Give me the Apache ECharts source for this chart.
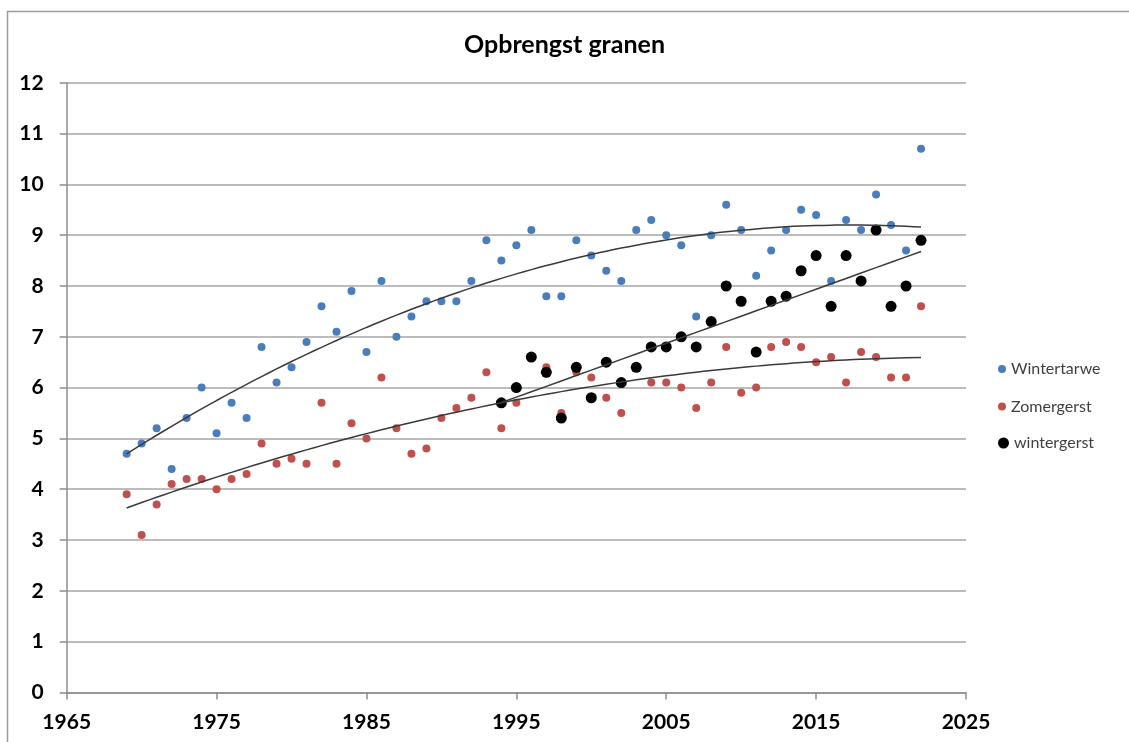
<!DOCTYPE html>
<html>
<head>
<meta charset="utf-8">
<script src="https://cdn.jsdelivr.net/npm/echarts@6/dist/echarts.min.js"></script>
<style>html,body{margin:0;padding:0;background:#fff}#c{width:1129px;height:742px}</style>
</head>
<body>
<div id="c"></div>
<script>
const title = 'Opbrengst granen';
const seriesNames = ['Wintertarwe', 'Zomergerst', 'wintergerst'];
const years = [1969,1970,1971,1972,1973,1974,1975,1976,1977,1978,1979,1980,1981,1982,1983,1984,1985,1986,1987,1988,1989,1990,1991,1992,1993,1994,1995,1996,1997,1998,1999,2000,2001,2002,2003,2004,2005,2006,2007,2008,2009,2010,2011,2012,2013,2014,2015,2016,2017,2018,2019,2020,2021,2022];
const wintertarwe = [4.7,4.9,5.2,4.4,5.4,6.0,5.1,5.7,5.4,6.8, 6.1,6.4,6.9,7.6,7.1,7.9,6.7,8.1,7.0,7.4, 7.7,7.7,7.7,8.1,8.9,8.5,8.8,9.1,7.8,7.8, 8.9,8.6,8.3,8.1,9.1,9.3,9.0,8.8,7.4,9.0, 9.6,9.1,8.2,8.7,9.1,9.5,9.4,8.1,9.3,9.1, 9.8,9.2,8.7,10.7];
const zomergerst = [3.9,3.1,3.7,4.1,4.2,4.2,4.0,4.2,4.3,4.9, 4.5,4.6,4.5,5.7,4.5,5.3,5.0,6.2,5.2,4.7, 4.8,5.4,5.6,5.8,6.3,5.2,5.7,6.6,6.4,5.5, 6.3,6.2,5.8,5.5,6.4,6.1,6.1,6.0,5.6,6.1, 6.8,5.9,6.0,6.8,6.9,6.8,6.5,6.6,6.1,6.7, 6.6,6.2,6.2,7.6];
const wgYears = [1994,1995,1996,1997,1998,1999,2000,2001,2002,2003,2004,2005,2006,2007,2008,2009,2010,2011,2012,2013,2014,2015,2016,2017,2018,2019,2020,2021,2022];
const wintergerst = [5.7,6.0,6.6,6.3,5.4,6.4,5.8,6.5,6.1,6.4, 6.8,6.8,7.0,6.8,7.3,8.0,7.7,6.7,7.7,7.8, 8.3,8.6,7.6,8.6,8.1,9.1,7.6,8.0,8.9];
const xTicks = {min: 1965, max: 2025, step: 10};
const yTicks = {min: 0, max: 12, step: 1};

// least-squares polynomial trendline (as the spreadsheet's trendline)
function polyFit(xs, ys, deg) {
  const x0 = xs.reduce((a,b)=>a+b,0)/xs.length;
  const n = deg + 1;
  const A = Array.from({length:n}, () => new Array(n+1).fill(0));
  xs.forEach((xv, k) => {
    const t = xv - x0;
    for (let i = 0; i < n; i++) {
      for (let j = 0; j < n; j++) A[i][j] += Math.pow(t, i + j);
      A[i][n] += ys[k] * Math.pow(t, i);
    }
  });
  for (let i = 0; i < n; i++) {
    let p = i;
    for (let r = i+1; r < n; r++) if (Math.abs(A[r][i]) > Math.abs(A[p][i])) p = r;
    [A[i], A[p]] = [A[p], A[i]];
    for (let r = 0; r < n; r++) {
      if (r === i) continue;
      const f = A[r][i] / A[i][i];
      for (let c = i; c <= n; c++) A[r][c] -= f * A[i][c];
    }
  }
  const coef = A.map((row, i) => row[n] / row[i]);
  return xv => coef.reduce((s, c, i) => s + c * Math.pow(xv - x0, i), 0);
}
function trend(xs, ys, deg) {
  const f = polyFit(xs, ys, deg);
  return xs.map(xv => [xv, f(xv)]);
}

const pair = (xs, ys) => xs.map((x, i) => [x, ys[i]]);
const FONT = 'Lato';
const chart = echarts.init(document.getElementById('c'), null, {renderer: 'canvas'});
const trendStyle = {color: '#3a3a3a', width: 1.5};
const legendBase = {
  orient: 'vertical', left: 993, itemGap: 0, icon: 'circle',
  textStyle: {fontFamily: FONT, fontSize: 16, color: '#404040', lineHeight: 18},
  selectedMode: false
};
chart.setOption({
  animation: false,
  backgroundColor: '#fff',
  graphic: [{type: 'rect', shape: {x: 7.5, y: 11.5, width: 1300, height: 900}, style: {fill: 'none', stroke: '#9a9a9a', lineWidth: 1.5}, silent: true}],
  title: {text: title, left: 'center', top: 27, textStyle: {fontFamily: FONT, fontSize: 25, fontWeight: 'bold', color: '#000'}},
  legend: [
    Object.assign({}, legendBase, {top: 355, data: [seriesNames[0]], itemWidth: 8, itemHeight: 8}),
    Object.assign({}, legendBase, {top: 392.5, data: [seriesNames[1]], itemWidth: 8, itemHeight: 8}),
    Object.assign({}, legendBase, {top: 429, data: [seriesNames[2]], itemWidth: 11, itemHeight: 11})
  ],
  grid: {left: 66.7, right: 163, top: 82.8, bottom: 49.6, containLabel: false},
  xAxis: {
    type: 'value', min: xTicks.min, max: xTicks.max, interval: xTicks.step,
    axisLine: {show: true, lineStyle: {color: '#8c8c8c', width: 1.5}},
    axisTick: {show: true, inside: false, length: 7, lineStyle: {color: '#8c8c8c', width: 1.5}},
    splitLine: {show: false},
    axisLabel: {fontFamily: FONT, fontSize: 21, fontWeight: 'bold', color: '#000', margin: 19, formatter: v => String(v)}
  },
  yAxis: {
    type: 'value', min: yTicks.min, max: yTicks.max, interval: yTicks.step,
    axisLine: {show: true, lineStyle: {color: '#8c8c8c', width: 1.5}},
    axisTick: {show: true, inside: false, length: 7, lineStyle: {color: '#8c8c8c', width: 1.5}},
    splitLine: {show: true, lineStyle: {color: '#a6a6a6', width: 1.5}},
    axisLabel: {fontFamily: FONT, fontSize: 21, fontWeight: 'bold', color: '#000', margin: 23}
  },
  series: [
    {name: seriesNames[0], type: 'scatter', data: pair(years, wintertarwe), symbolSize: 8, itemStyle: {color: '#4a7ebb', opacity: 1}, z: 2},
    {name: seriesNames[1], type: 'scatter', data: pair(years, zomergerst), symbolSize: 8, itemStyle: {color: '#c0504d', opacity: 1}, z: 3},
    {name: seriesNames[2], type: 'scatter', data: pair(wgYears, wintergerst), symbolSize: 11, itemStyle: {color: '#000', opacity: 1}, z: 4},
    {type: 'line', data: trend(years, wintertarwe, 2), smooth: true, showSymbol: false, symbol: 'none', lineStyle: trendStyle, silent: true, z: 5},
    {type: 'line', data: trend(years, zomergerst, 2), smooth: true, showSymbol: false, symbol: 'none', lineStyle: trendStyle, silent: true, z: 5},
    {type: 'line', data: trend(wgYears, wintergerst, 1), smooth: false, showSymbol: false, symbol: 'none', lineStyle: trendStyle, silent: true, z: 5}
  ]
});
</script>
</body>
</html>
